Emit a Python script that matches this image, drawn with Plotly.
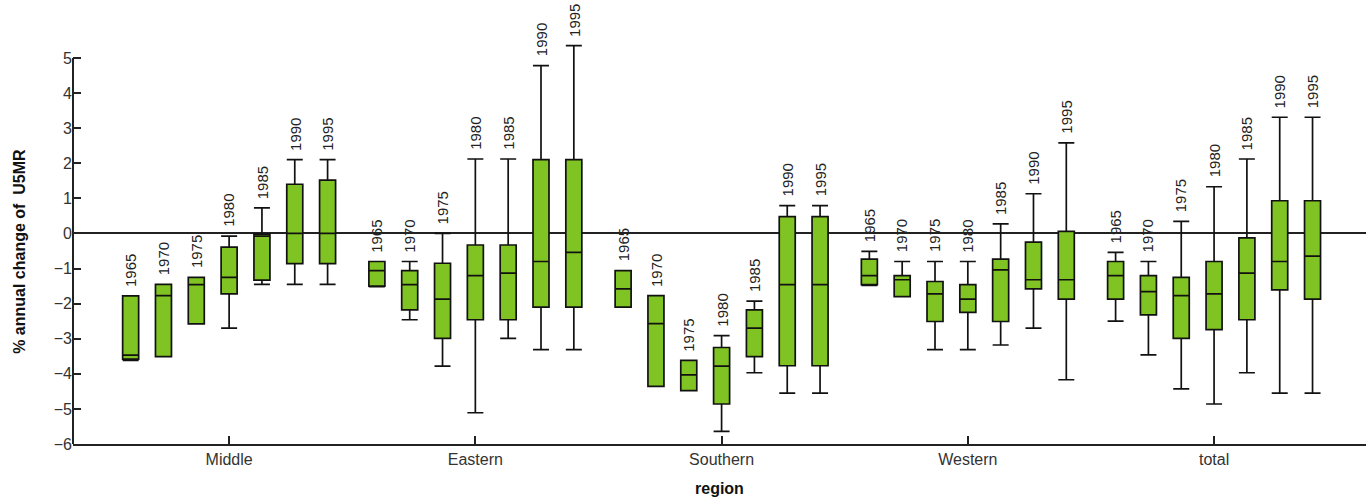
import plotly.graph_objects as go

regions = ["Middle", "Eastern", "Southern", "Western", "total"]
years = ["1965", "1970", "1975", "1980", "1985", "1990", "1995"]

# per year: values for each region in order [Middle, Eastern, Southern, Western, total]
upper = {
    "1965": [-1.78, -0.80, -1.06, -0.51, -0.54],
    "1970": [-1.45, -0.80, -1.77, -0.80, -0.80],
    "1975": [-1.25, 0.00, -3.62, -0.80, 0.34],
    "1980": [-0.08, 2.12, -2.91, -0.80, 1.33],
    "1985": [0.73, 2.12, -1.93, 0.27, 2.12],
    "1990": [2.10, 4.78, 0.79, 1.13, 3.31],
    "1995": [2.10, 5.35, 0.79, 2.58, 3.31],
}
q3 = {
    "1965": [-1.78, -0.80, -1.06, -0.73, -0.80],
    "1970": [-1.45, -1.06, -1.77, -1.20, -1.20],
    "1975": [-1.25, -0.85, -3.62, -1.37, -1.25],
    "1980": [-0.39, -0.33, -3.25, -1.46, -0.80],
    "1985": [-0.02, -0.33, -2.18, -0.73, -0.13],
    "1990": [1.40, 2.10, 0.48, -0.25, 0.93],
    "1995": [1.52, 2.10, 0.48, 0.06, 0.93],
}
median = {
    "1965": [-3.47, -1.06, -1.58, -1.20, -1.20],
    "1970": [-1.77, -1.46, -2.57, -1.32, -1.66],
    "1975": [-1.46, -1.87, -4.03, -1.72, -1.77],
    "1980": [-1.25, -1.20, -3.78, -1.87, -1.72],
    "1985": [-0.08, -1.13, -2.70, -1.04, -1.13],
    "1990": [0.00, -0.80, -1.46, -1.32, -0.80],
    "1995": [0.00, -0.54, -1.46, -1.32, -0.65],
}
q1 = {
    "1965": [-3.58, -1.50, -2.10, -1.46, -1.87],
    "1970": [-3.51, -2.18, -4.36, -1.80, -2.32],
    "1975": [-2.58, -2.99, -4.48, -2.51, -2.99],
    "1980": [-1.72, -2.46, -4.86, -2.25, -2.74],
    "1985": [-1.33, -2.46, -3.51, -2.51, -2.46],
    "1990": [-0.86, -2.10, -3.77, -1.58, -1.61],
    "1995": [-0.86, -2.10, -3.77, -1.87, -1.87],
}
lower = {
    "1965": [-3.62, -1.52, -2.10, -1.48, -2.50],
    "1970": [-3.51, -2.46, -4.36, -1.80, -3.46],
    "1975": [-2.58, -3.78, -4.48, -3.31, -4.43],
    "1980": [-2.70, -5.11, -5.64, -3.31, -4.86],
    "1985": [-1.45, -2.99, -3.97, -3.18, -3.97],
    "1990": [-1.45, -3.31, -4.55, -2.70, -4.55],
    "1995": [-1.45, -3.31, -4.55, -4.17, -4.55],
}

y_ticks = [-6, -5, -4, -3, -2, -1, 0, 1, 2, 3, 4, 5]

GREEN = "#80C423"
SLOT = 0.1333
BOXW = 0.065
FONT = "Liberation Sans, Arial, sans-serif"

fig = go.Figure()
annotations = []
for k, yr in enumerate(years):
    off = (k - 3) * SLOT
    xs = [i + off for i in range(len(regions))]
    fig.add_trace(go.Box(
        x=xs,
        q1=q1[yr], median=median[yr], q3=q3[yr],
        lowerfence=lower[yr], upperfence=upper[yr],
        width=BOXW,
        whiskerwidth=1,
        fillcolor=GREEN,
        line=dict(color="#111111", width=1.7),
        showlegend=False,
        name=yr,
        hoverinfo="skip",
    ))
    for x, u in zip(xs, upper[yr]):
        annotations.append(dict(
            x=x, y=u, xref="x", yref="y", text=yr, textangle=-90,
            showarrow=False, xanchor="center", yanchor="bottom", yshift=7,
            font=dict(family=FONT, size=15, color="#222222"),
        ))

annotations.append(dict(
    x=0.5, y=-0.1, xref="paper", yref="paper", text="<b>region</b>",
    showarrow=False, xanchor="center", yanchor="middle",
    font=dict(family=FONT, size=16, color="#111111"),
))
annotations.append(dict(
    x=-0.041, y=0.435, xref="paper", yref="paper",
    text="<b>% annual change of  U5MR</b>", textangle=-90,
    showarrow=False, xanchor="center", yanchor="middle",
    font=dict(family=FONT, size=16, color="#111111"),
))

fig.update_layout(
    width=1366, height=500,
    margin=dict(l=73, r=0, t=0, b=56),
    paper_bgcolor="white", plot_bgcolor="white",
    annotations=annotations,
    font=dict(family=FONT, size=16, color="#333333"),
    xaxis=dict(
        range=[-0.634, 4.617],
        tickmode="array", tickvals=list(range(len(regions))), ticktext=regions,
        ticks="inside", ticklen=8, tickwidth=2, tickcolor="#222222",
        showline=True, linecolor="#222222", linewidth=2,
        showgrid=False, zeroline=False,
        tickfont=dict(family=FONT, size=16, color="#333333"),
    ),
    yaxis=dict(
        range=[-6, 6.65],
        tickmode="array", tickvals=y_ticks,
        ticktext=[("\u2212" + str(-v)) if v < 0 else str(v) for v in y_ticks],
        ticks="inside", ticklen=8, tickwidth=2, tickcolor="#222222",
        showline=False, showgrid=False,
        zeroline=True, zerolinecolor="#222222", zerolinewidth=1.6,
        tickfont=dict(family=FONT, size=16, color="#333333"),
    ),
    shapes=[dict(type="line", xref="paper", yref="y", x0=0, x1=0, y0=-6, y1=5,
                 line=dict(color="#222222", width=2))],
)

fig.write_html("out.html")
